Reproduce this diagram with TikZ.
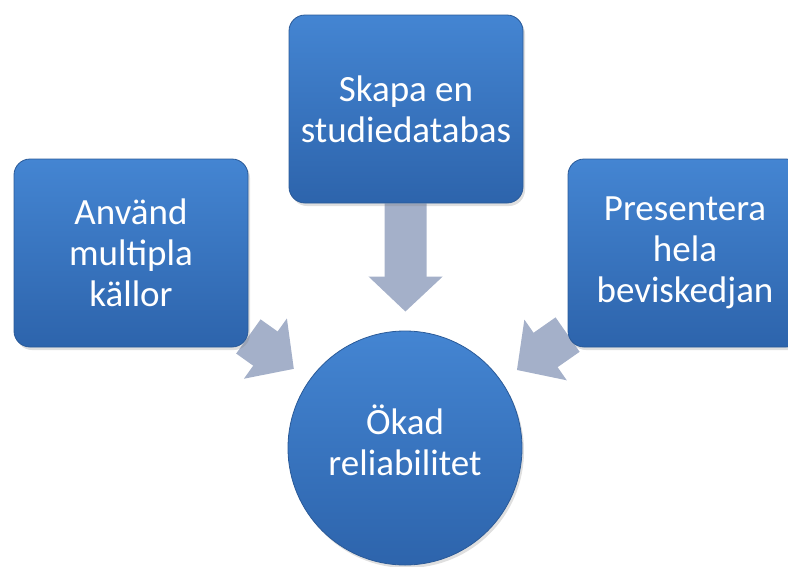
\documentclass[tikz,border=0pt]{standalone}
\usepackage{fontspec}
\setmainfont{Carlito}
\usetikzlibrary{arrows.meta,backgrounds,shadows}
\definecolor{boxtop}{HTML}{4485D2}
\definecolor{boxbot}{HTML}{2D64AC}
\definecolor{boxline}{HTML}{2A5A98}
\definecolor{arrowfill}{HTML}{A4B0C9}
\tikzset{
    step box/.style = {
        draw = boxline,
        line width = 0.8pt,
        rounded corners = 16pt,
        top color = boxtop,
        bottom color = boxbot,
        text = white,
        align = center,
        minimum width = 234pt,
        minimum height = 188pt,
        font = \fontsize{37}{41}\selectfont,
        drop shadow = {opacity=0.25, shadow xshift=2pt, shadow yshift=-3pt},
        },
    goal/.style = {
        step box,
        circle,
        rounded corners = 0pt,
        minimum size = 234pt,
        text depth = 16pt,
        },
    block arrow/.style = {
        draw = arrowfill,
        line width = 42pt,
        -{Triangle[length=35pt,width=72pt]},
        shorten >= 19pt,
        },
}
\begin{document}
\begin{tikzpicture}[x=1pt,y=-1pt]
            \useasboundingbox (0,0) rectangle (788,566);
            \clip (0,0) rectangle (788,566);
            \node[step box] (kallor) at (131,253) {Använd\\multipla\\källor};
            \node[step box] (databas) at (406,109) {Skapa en\\studiedatabas};
            \node[step box] (kedja) at (685,253) {Presentera\\hela\\beviskedjan};
            \node[goal] (okad) at (405,448) {Ökad\\reliabilitet};

            \begin{scope}[on background layer]
            \draw[block arrow] (kallor) -- (okad);
            \draw[block arrow] (databas) -- (okad);
            \draw[block arrow] (kedja) -- (okad);
            \end{scope}
        \end{tikzpicture}
\end{document}
